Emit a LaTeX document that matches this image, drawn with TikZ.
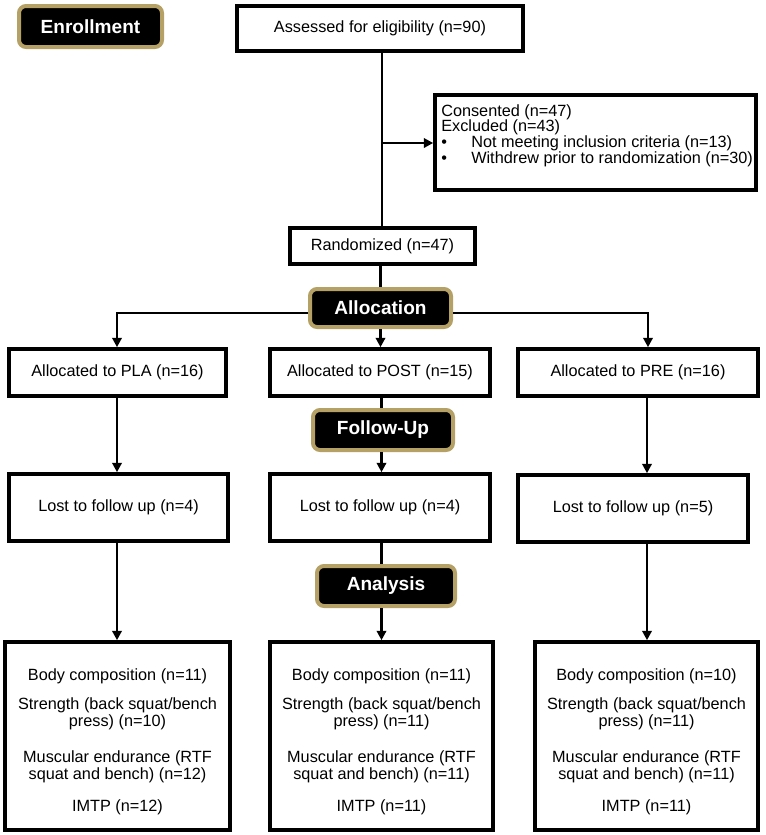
\documentclass[tikz,border=0pt]{standalone}
\usepackage{fontspec}
\setmainfont{Liberation Sans}
\usetikzlibrary{arrows.meta}
\definecolor{gold}{RGB}{181,161,101}
\newdimen\pxu \pxu=0.75pt
\tikzset{
  box/.style={draw=black, line width=2.7pt, fill=white, inner sep=0pt, align=center,
    font=\fontsize{12.2}{14}\selectfont},
  lab/.style={draw=gold, line width=3pt, fill=black, rounded corners=5.25pt, text=white,
    inner sep=0pt, font=\fontsize{14.3}{16}\selectfont\bfseries},
  conn/.style={line width=1.9pt},
  arr/.style={conn, -{Triangle[length=7pt, width=7pt]}},
  restext/.style={anchor=north, inner sep=0pt, align=center, font=\fontsize{12.2}{13.1}\selectfont}
}
\begin{document}
\begin{tikzpicture}[x=0.75pt, y=-0.75pt]
\useasboundingbox (0,0) rectangle (765,835);

% labels
\node[lab, minimum width=143\pxu, minimum height=41\pxu] (enroll) at (90.5,26.5) {Enrollment};
\node[lab, minimum width=141\pxu, minimum height=38\pxu] (alloc) at (380.5,308) {Allocation};
\node[lab, minimum width=140\pxu, minimum height=40\pxu] (follow) at (383,430) {Follow-Up};
\node[lab, minimum width=138\pxu, minimum height=40\pxu] (analysis) at (386,586) {Analysis};

% boxes
\node[box, minimum width=286\pxu, minimum height=45\pxu] (assess) at (380,28.5) {Assessed for eligibility (n=90)};
\node[box, minimum width=321\pxu, minimum height=95\pxu] (consent) at (595.5,142.5) {};
\node[anchor=north west, inner sep=0pt, align=left, font=\fontsize{12.2}{11.85}\selectfont] (ctext) at (441,104)
  {Consented (n=47)\\Excluded (n=43)\\\makebox[22.5pt][l]{\textbullet}Not meeting inclusion criteria (n=13)\\\makebox[22.5pt][l]{\textbullet}Withdrew prior to randomization (n=30)};
\node[box, minimum width=185\pxu, minimum height=36\pxu] (rand) at (382.5,246) {Randomized (n=47)};

\node[box, minimum width=217\pxu, minimum height=47\pxu] (pla) at (117.5,372.5) {Allocated to PLA (n=16)};
\node[box, minimum width=220\pxu, minimum height=47\pxu] (post) at (380,372.5) {Allocated to POST (n=15)};
\node[box, minimum width=240\pxu, minimum height=47\pxu] (pre) at (638,372.5) {Allocated to PRE (n=16)};

\node[box, minimum width=219\pxu, minimum height=67\pxu] (lostL) at (118.5,507.5) {Lost to follow up (n=4)};
\node[box, minimum width=220\pxu, minimum height=67\pxu] (lostM) at (380,507.5) {Lost to follow up (n=4)};
\node[box, minimum width=230\pxu, minimum height=67\pxu] (lostR) at (633,508.5) {Lost to follow up (n=5)};

\node[box, minimum width=225\pxu, minimum height=188\pxu] (resL) at (117.5,736) {};
\node[box, minimum width=223\pxu, minimum height=188\pxu] (resM) at (381.5,736) {};
\node[box, minimum width=223\pxu, minimum height=188\pxu] (resR) at (646.5,736) {};

\node[restext] (tL) at (117.5,668) {Body composition (n=11)\\[8.8pt]Strength (back squat/bench\\press) (n=10)\\[13.5pt]Muscular endurance (RTF\\squat and bench) (n=12)\\[10.6pt]IMTP (n=12)};
\node[restext] (tM) at (381.5,668) {Body composition (n=11)\\[8.8pt]Strength (back squat/bench\\press) (n=11)\\[13.5pt]Muscular endurance (RTF\\squat and bench) (n=11)\\[10.6pt]IMTP (n=11)};
\node[restext] (tR) at (646.5,668) {Body composition (n=10)\\[8.8pt]Strength (back squat/bench\\press) (n=11)\\[13.5pt]Muscular endurance (RTF\\squat and bench) (n=11)\\[10.6pt]IMTP (n=11)};

% coordinates
\coordinate (br) at (382,143);
\coordinate (lt) at (117,313);
\coordinate (rt) at (648,313);
\coordinate (lx) at (117,0);
\coordinate (mx) at (381.5,0);
\coordinate (rx) at (647,0);

% connectors
\draw[conn] (assess.south -| br) -- (rand.north -| br);
\draw[arr] (br) -- (br -| consent.west);
\draw[conn] (rand.south -| alloc.north) -- (alloc.north);
\draw[arr] (alloc.south) -- (alloc.south |- post.north);
\draw[arr] (alloc.west |- lt) -- (lt) -- (lt |- pla.north);
\draw[arr] (alloc.east |- rt) -- (rt) -- (rt |- pre.north);

\draw[arr] (pla.south -| lx) -- (lostL.north -| lx);
\draw[conn] (post.south -| mx) -- (follow.north -| mx);
\draw[arr] (follow.south -| mx) -- (lostM.north -| mx);
\draw[arr] (pre.south -| rx) -- (lostR.north -| rx);

\draw[arr] (lostL.south -| lx) -- (resL.north -| lx);
\draw[conn] (lostM.south -| mx) -- (analysis.north -| mx);
\draw[arr] (analysis.south -| mx) -- (resM.north -| mx);
\draw[arr] (lostR.south -| rx) -- (resR.north -| rx);
\end{tikzpicture}
\end{document}
